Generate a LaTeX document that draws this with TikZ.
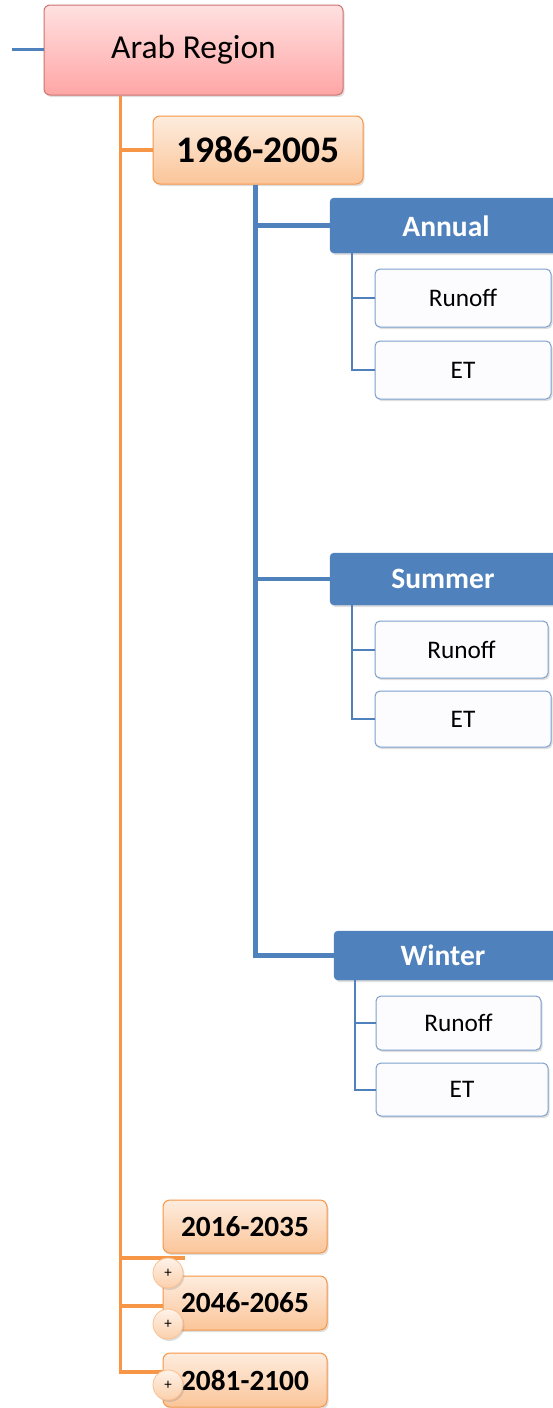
\documentclass[tikz,border=0pt]{standalone}
\usepackage{fontspec}
\setmainfont{Carlito}
\usetikzlibrary{shadows}
\definecolor{blueA}{HTML}{4F81BD}
\definecolor{blueB}{HTML}{7C9FCC}
\definecolor{orangeA}{HTML}{F79646}
\definecolor{redA}{HTML}{C0504D}
\tikzset{
  shad/.style={drop shadow={opacity=0.25,shadow xshift=1.5pt,shadow yshift=-2pt}},
  rootbox/.style={draw=redA!80,line width=1pt,rounded corners=6pt,top color=red!12,bottom color=red!35!white,shad,
    font=\fontsize{33.5}{36}\selectfont,inner sep=0pt},
  periodbox/.style={draw=orangeA,line width=1pt,rounded corners=7pt,top color=orangeA!18,bottom color=orangeA!55,shad,
    font=\bfseries\fontsize{37.5}{40}\selectfont,inner sep=0pt},
  laterbox/.style={periodbox,font=\bfseries\fontsize{29.3}{32}\selectfont},
  seasonbox/.style={fill=blueA,draw=blueA,rounded corners=4pt,text=white,shad,inner sep=0pt},
  seasonlabel/.style={font=\bfseries\fontsize{29.5}{32}\selectfont,text=white},
  leafbox/.style={draw=blueB,line width=1pt,fill=blue!1!white,rounded corners=5pt,shad,
    font=\fontsize{25.3}{28}\selectfont,inner sep=0pt},
  plusbtn/.style={circle,draw=orangeA!60,line width=0.8pt,top color=orangeA!12,bottom color=orangeA!45,shad,
    minimum size=30pt,inner sep=0pt,font=\fontsize{15}{16}\selectfont},
  oline/.style={draw=orangeA,line width=3.5pt},
  bline/.style={draw=blueA,line width=4.5pt},
  sline/.style={draw=blueA,line width=2pt},
}
\begin{document}
\begin{tikzpicture}[x=1pt,y=-1pt]
\useasboundingbox[fill=white] (0,0) rectangle (552,1408);

% root and periods
\node[rootbox,minimum width=299pt,minimum height=90pt] (arab) at (193.5,50) {Arab Region};
\node[periodbox,minimum width=210pt,minimum height=68pt] (p1) at (258,150) {1986-2005};
\node[laterbox,minimum width=164pt,minimum height=53pt] (p2) at (245,1226.5) {2016-2035};
\node[laterbox,minimum width=164pt,minimum height=54pt] (p3) at (245,1303) {2046-2065};
\node[laterbox,minimum width=164pt,minimum height=54pt] (p4) at (245,1380) {2081-2100};

% seasons
\node[seasonbox,minimum width=240pt,minimum height=55pt] (annual) at (450,225.5) {};
\node[seasonlabel] (annualtxt) at (446,226) {Annual};
\node[seasonbox,minimum width=240pt,minimum height=52pt] (summer) at (450,579) {};
\node[seasonlabel] (summertxt) at (443,579) {Summer};
\node[seasonbox,minimum width=236pt,minimum height=49pt] (winter) at (452,955.5) {};
\node[seasonlabel] (wintertxt) at (443,955) {Winter};

% variables
\node[leafbox,minimum width=176pt,minimum height=58pt] (ar) at (463,298) {Runoff};
\node[leafbox,minimum width=176pt,minimum height=58pt] (ae) at (463,370) {ET};
\node[leafbox,minimum width=173pt,minimum height=57pt] (sr) at (461.5,649.5) {Runoff};
\node[leafbox,minimum width=176pt,minimum height=56pt] (se) at (463,719) {ET};
\node[leafbox,minimum width=165pt,minimum height=54pt] (wr) at (458.5,1023) {Runoff};
\node[leafbox,minimum width=172pt,minimum height=53pt] (we) at (462,1089.5) {ET};

% connector ends
\coordinate (lin) at (12,49);
\coordinate (b2) at (185,1258);
\coordinate (b3) at (163,1306);
\coordinate (b4) at (163,1372);

% connectors
\draw[bline,line width=3pt] (lin) -- (arab.west |- lin);
\draw[oline] ([xshift=77pt]arab.south west) |- (p1.west);
\draw[oline] ([xshift=77pt]arab.south west) |- (b4);
\draw[oline] ([xshift=77pt]arab.south west) |- (b2);
\draw[oline] ([xshift=77pt]arab.south west) |- (b3);
\draw[bline] ([xshift=103pt]p1.south west) |- (annual.west);
\draw[bline] ([xshift=103pt]p1.south west) |- (summer.west);
\draw[bline] ([xshift=103pt]p1.south west) |- (winter.west);
\draw[sline] ([xshift=22pt]annual.south west) |- (ar.west);
\draw[sline] ([xshift=22pt]annual.south west) |- (ae.west);
\draw[sline] ([xshift=22pt]summer.south west) |- (sr.west);
\draw[sline] ([xshift=22pt]summer.south west) |- (se.west);
\draw[sline] ([xshift=21pt]winter.south west) |- (wr.west);
\draw[sline] ([xshift=21pt]winter.south west) |- (we.west);

% expand buttons
\node[plusbtn] (x2) at (168,1273) {+};
\node[plusbtn] (x3) at (168,1324) {+};
\node[plusbtn] (x4) at (168,1385) {+};
\end{tikzpicture}
\end{document}
